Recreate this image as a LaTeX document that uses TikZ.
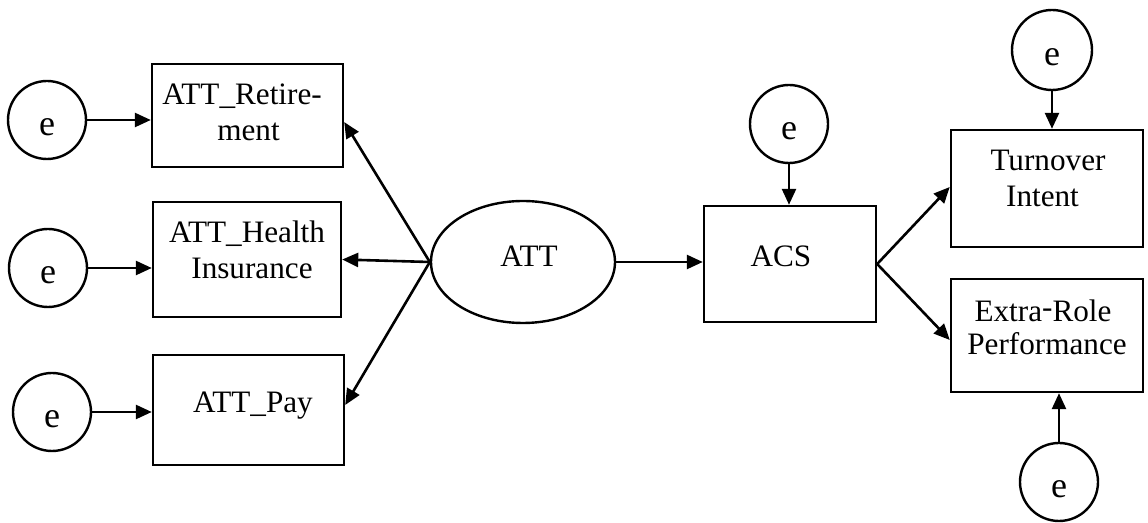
\documentclass[tikz,border=0pt]{standalone}
\usepackage{fontspec}
\setmainfont{Liberation Serif}
\usetikzlibrary{arrows.meta,shapes.geometric}

\tikzset{
  every picture/.style={line width=1.2pt},
  boxn/.style={draw, rectangle, inner sep=0pt},
  errc/.style={draw, circle, inner sep=0pt, minimum size=39pt,
               text height=15.5pt, text depth=0pt,
               font=\fontsize{18}{20}\selectfont},
  latent/.style={draw, ellipse, inner sep=0pt,
                 minimum width=92pt, minimum height=61pt},
  lbl/.style={anchor=base, inner sep=0pt,
              font=\fontsize{15.6}{18}\selectfont},
  arr/.style={-{Triangle[length=8pt,width=7pt]}, line width=1.3pt},
}

\begin{document}
\begin{tikzpicture}[x=0.5pt, y=-0.5pt]
  \useasboundingbox (0,0) rectangle (1148,523);

  % indicator boxes of ATT
  \node[boxn, minimum width=95.5pt, minimum height=51.5pt] (ret)    at (247.5,115.5) {};
  \node[boxn, minimum width=94pt,   minimum height=57.5pt] (health) at (247,259.5) {};
  \node[boxn, minimum width=95.5pt, minimum height=55pt]   (pay)    at (248.5,410) {};

  % latent factor and mediator
  \node[latent] (att) at (523,262) {};
  \node[boxn, minimum width=86pt, minimum height=58pt] (acs) at (790,264) {};

  % outcomes
  \node[boxn, minimum width=96pt, minimum height=58.5pt] (turn)  at (1047,188.5) {};
  \node[boxn, minimum width=96pt, minimum height=56.5pt] (extra) at (1047,335.5) {};

  % error terms
  \node[errc] (e1) at (47,120) {e};
  \node[errc] (e2) at (48,268) {e};
  \node[errc] (e3) at (52,412) {e};
  \node[errc] (e4) at (789,124) {e};
  \node[errc, minimum size=40pt] (e5) at (1052,50) {e};
  \node[errc] (e6) at (1059,482) {e};

  % labels
  \node[lbl] (tret1) at (242,105) {ATT\_Retire-};
  \node[lbl] (tret2) at (248.5,141) {ment};
  \node[lbl] (thea1) at (247,243) {ATT\_Health};
  \node[lbl] (thea2) at (252,279) {Insurance};
  \node[lbl] (tpay)  at (253,413) {ATT\_Pay};
  \node[lbl] (tatt)  at (529,267) {ATT};
  \node[lbl] (tacs)  at (781,267) {ACS};
  \node[lbl] (ttur1) at (1048,171) {Turnover};
  \node[lbl] (ttur2) at (1042.5,207) {Intent};
  \node[lbl] (text1) at (1043,322) {Extra\raisebox{2pt}{-}Role};
  \node[lbl] (text2) at (1047,355) {Performance};

  % error arrows
  \draw[arr] (e1.east) -- (e1.east -| ret.west);
  \draw[arr] (e2.east) -- (e2.east -| health.west);
  \draw[arr] (e3.east) -- (e3.east -| pay.west);
  \draw[arr] (e4.south) -- (e4.south |- acs.north);
  \draw[arr] (e5.south) -- (e5.south |- turn.north);
  \draw[arr] (e6.north) -- (e6.north |- extra.south);

  % factor loadings
  \draw[arr] (att.west) -- (ret.east |- 0,122);
  \draw[arr] (att.west) -- (health.east);
  \draw[arr] (att.west) -- (pay.east |- 0,405);

  % structural paths
  \draw[arr] (att.east) -- (att.east -| acs.west);
  \draw[arr] (acs.east) -- (turn.west |- 0,187);
  \draw[arr] (acs.east) -- (extra.west |- 0,340);
\end{tikzpicture}
\end{document}
